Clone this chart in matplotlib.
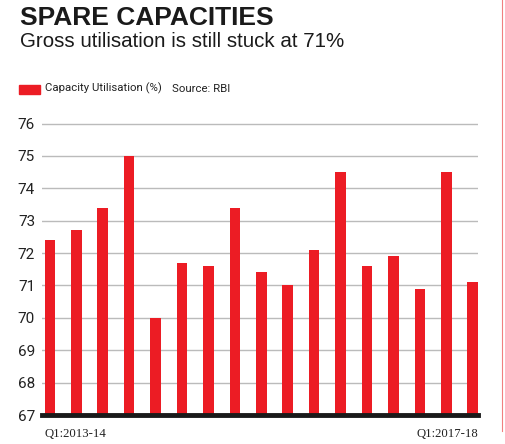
import numpy as np
import matplotlib.pyplot as plt
from matplotlib.patches import Rectangle
from matplotlib.lines import Line2D

quarters = ["Q1:2013-14", "Q2:2013-14", "Q3:2013-14", "Q4:2013-14",
            "Q1:2014-15", "Q2:2014-15", "Q3:2014-15", "Q4:2014-15",
            "Q1:2015-16", "Q2:2015-16", "Q3:2015-16", "Q4:2015-16",
            "Q1:2016-17", "Q2:2016-17", "Q3:2016-17", "Q4:2016-17",
            "Q1:2017-18"]
utilisation = [72.4, 72.7, 73.4, 75.0, 70.0, 71.7, 71.6, 73.4, 71.4,
               71.0, 72.1, 74.5, 71.6, 71.9, 70.9, 74.5, 71.1]
yticks = [67, 68, 69, 70, 71, 72, 73, 74, 75, 76]

red = "#ec1c24"
narrow = ["Liberation Sans Narrow", "Roboto", "DejaVu Sans"]
serif = ["Liberation Serif", "DejaVu Serif"]

fig = plt.figure(figsize=(5.05, 4.44), dpi=100)
ax = fig.add_axes([42 / 505, 29 / 444, 436 / 505, 291.5 / 444])

x = np.arange(len(utilisation))
ax.bar(x, np.array(utilisation) - 67, bottom=67, width=0.4, color=red, zorder=3)

ax.set_xlim(-0.3, 16.2)
ax.set_ylim(67, 76)
ax.set_yticks(yticks)
ax.set_yticklabels([str(t) for t in yticks], family=narrow, fontsize=11, color="#222222")
ax.tick_params(axis="y", length=0, pad=5)
ax.set_xticks([])
ax.grid(axis="y", color="#bbbbbb", linewidth=1, zorder=0)
for s in ["top", "right", "left"]:
    ax.spines[s].set_visible(False)
ax.spines["bottom"].set_linewidth(3.5)
ax.spines["bottom"].set_color("#1a1a1a")
ax.spines["bottom"].set_zorder(4)

# first and last quarter labels
ax.text(0 - 0.22, 66.6, quarters[0], ha="left", va="top",
        family=serif, fontsize=9.2, color="#222222")
ax.text(16 + 0.22, 66.6, quarters[-1], ha="right", va="top",
        family=serif, fontsize=9.2, color="#222222")

# titles
fig.text(20 / 505, 1 - 6 / 444, "SPARE CAPACITIES", ha="left", va="top",
         family=["Liberation Sans", "DejaVu Sans"], fontweight="bold",
         fontsize=19, color="#1a1a1a")
fig.text(20 / 505, 1 - 32 / 444, "Gross utilisation is still stuck at 71%", ha="left",
         va="top", family=["Liberation Sans", "DejaVu Sans"], fontsize=14.8,
         color="#1a1a1a")

# legend
fig.patches.append(Rectangle((19 / 505, 1 - 94 / 444), 21 / 505, 9 / 444,
                             transform=fig.transFigure, color=red))
fig.text(45 / 505, 1 - 88.5 / 444, "Capacity Utilisation (%)",
         ha="left", va="center", family=narrow, fontsize=8.2, color="#222222")
fig.text(172 / 505, 1 - 88.5 / 444, "Source: RBI",
         ha="left", va="center", family=narrow, fontsize=8.2, color="#222222")

# decorative border line on the right
fig.lines.append(Line2D([502 / 505, 502 / 505], [1 - 0 / 444, 1 - 431 / 444],
                        transform=fig.transFigure, color="#f08080", linewidth=0.8))

fig.savefig("out.png", dpi=100)
